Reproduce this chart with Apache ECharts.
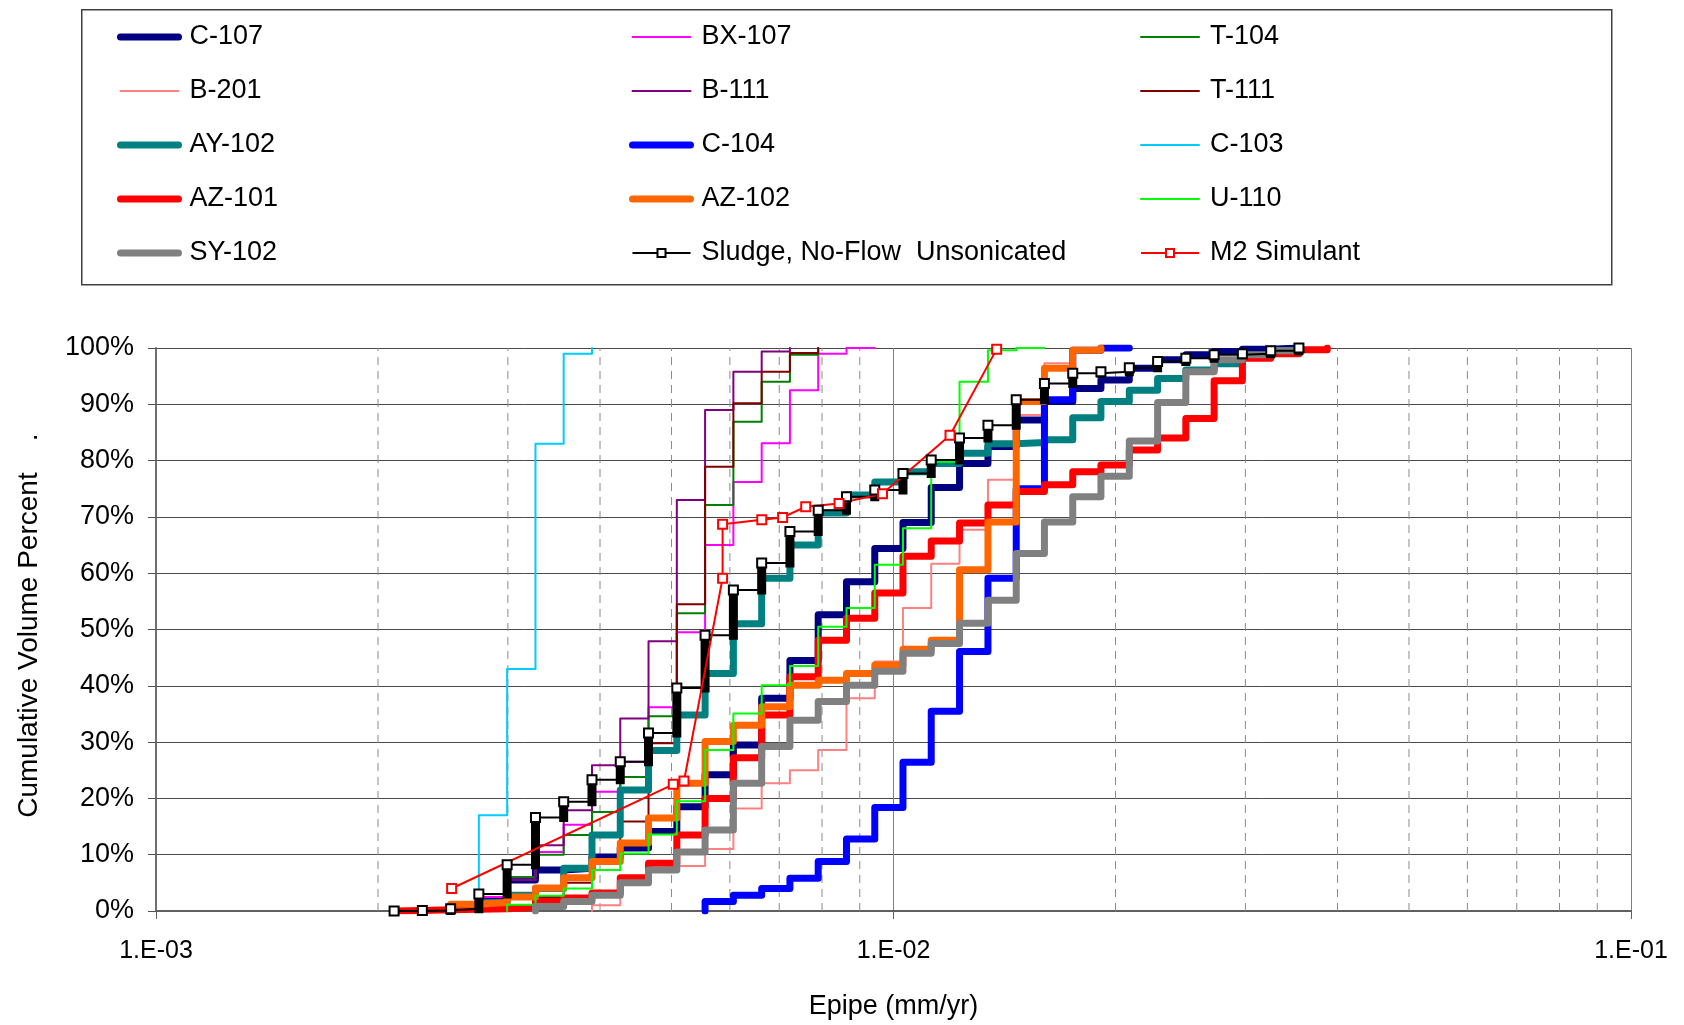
<!DOCTYPE html>
<html>
<head>
<meta charset="utf-8">
<script src="https://cdn.jsdelivr.net/npm/echarts@6/dist/echarts.min.js"></script>
<style>
  html, body { margin: 0; padding: 0; background: #ffffff; }
  #chart { width: 1684px; height: 1025px; }
</style>
</head>
<body>
<div id="chart"></div>
<script>
// Upper edges of the Epipe classes (mm/yr); every tank curve steps at these values
const binEdges = [0.002103, 0.002297, 0.002509, 0.002740, 0.002993, 0.003270, 0.003571,
  0.003901, 0.004261, 0.004654, 0.005084, 0.005553, 0.006066, 0.006626, 0.007237,
  0.007905, 0.008635, 0.009432, 0.01030, 0.01125, 0.01229, 0.01343, 0.01467, 0.01602,
  0.01750, 0.01911, 0.02088, 0.02281, 0.02491, 0.02721, 0.02972, 0.03247, 0.03546, 0.03874];

// Cumulative volume percent per class; "From" is the first class index of each curve
const c107From = 2;
const c107 = [0.5, 2.0, 5.5, 7.3, 7.6, 9.6, 11.2, 14.1, 18.5, 24.2, 29.5, 37.8, 44.5, 52.6, 58.5,
  64.4, 69.0, 75.2, 79.5, 82.5, 87.2, 90.5, 92.8, 94.3, 96.4, 97.9, 98.8, 99.4, 99.8, 100, 100];
const bx107From = 2;
const bx107 = [1.0, 2.5, 6.0, 10.5, 15.3, 21.2, 26.5, 36.2, 49.5, 65.0, 76.2, 83.1, 92.5, 99.0, 100, 100];
const t104From = 2;
const t104 = [1.0, 3.0, 6.0, 10.0, 13.5, 17.6, 23.8, 34.6, 52.9, 72.1, 86.9, 94.0, 98.8, 100];
const b201From = 7;
const b201 = [1.0, 4.6, 7.3, 8.0, 11.0, 18.2, 22.7, 25.0, 28.6, 37.8, 44.3, 53.8, 61.7, 67.7, 76.6, 88.1, 97.3, 100];
const b111From = 2;
const b111 = [0.8, 2.0, 5.5, 11.7, 17.9, 25.9, 34.2, 47.9, 73.0, 89.0, 95.8, 99.4, 100];
const t111From = 4;
const t111 = [1.0, 2.5, 5.0, 9.0, 15.9, 29.8, 54.5, 78.9, 90.2, 95.8, 99.1, 100];
const ay102From = 2;
const ay102 = [0.8, 1.5, 2.8, 4.0, 7.6, 13.5, 21.5, 28.5, 34.8, 42.2, 51.0, 59.1, 65.0, 70.7, 73.9,
  76.2, 78.0, 79.5, 81.3, 83.0, 83.2, 83.7, 87.6, 90.5, 92.5, 94.6, 96.1, 97.2, 98.5, 99.5, 100];
const c104From = 11;
const c104 = [1.7, 2.8, 4.0, 5.8, 8.8, 12.8, 18.4, 26.4, 35.5, 46.1, 59.1, 75.0, 90.8, 99.6, 100, 100];
const c103From = 3;
const c103 = [17, 43, 83, 99, 100];
const az101From = 0;
const az101 = [0.1, 0.2, 0.3, 0.4, 0.6, 1.7, 2.3, 3.2, 5.9, 8.5, 13.5, 20.0, 27.2, 34.8, 41.6, 48.1,
  52.0, 56.5, 63.0, 65.7, 68.9, 72.1, 74.5, 75.7, 78.0, 79.2, 81.9, 84.0, 87.5, 94.2, 98.2, 99.0, 99.7, 100];
const az102From = 2;
const az102 = [1.2, 1.5, 2.5, 4.1, 5.9, 8.8, 12.1, 16.5, 22.7, 30.1, 33.0, 36.3, 40.1, 41.0, 42.2,
  43.7, 46.5, 48.1, 60.6, 69.1, 90.5, 96.4, 99.6, 100];
const u110From = 4;
const u110 = [1.1, 2.7, 4.0, 7.3, 10.2, 13.6, 19.5, 28.6, 35.1, 40.1, 43.5, 50.5, 53.8, 61.5, 68.0,
  79.8, 94.0, 99.6, 100, 100];
const sy102From = 5;
const sy102 = [0.8, 1.7, 2.8, 5.0, 7.3, 10.5, 14.4, 22.7, 29.2, 33.9, 37.2, 40.1, 42.6, 45.8, 47.5,
  51.1, 55.2, 63.5, 69.1, 73.6, 77.2, 83.5, 90.3, 95.8, 97.9, 98.8, 99.5, 100];
const sludgeFrom = 0;
const sludge = [0, 0.1, 0.4, 3.0, 8.2, 16.6, 19.4, 23.3, 26.5, 31.6, 39.6, 49.0, 57.0, 61.8, 67.4,
  71.2, 73.6, 74.8, 77.7, 80.1, 84.0, 86.3, 90.8, 93.7, 95.5, 95.8, 96.5, 97.6, 98.2, 98.8, 99.0, 99.5, 100];

// M2 simulant measured points
const m2Epipe = [0.002517, 0.005028, 0.005199, 0.005865, 0.005865, 0.006628, 0.007074, 0.007603,
  0.008437, 0.009662, 0.01193, 0.01380];
const m2Pct = [4.0, 22.5, 23.1, 59.1, 68.7, 69.5, 69.9, 71.8, 72.4, 74.1, 84.5, 99.8];

// Axis decorations and legend layout (three columns)
const minorGrid = [0.002, 0.003, 0.004, 0.005, 0.006, 0.007, 0.008, 0.009,
  0.02, 0.03, 0.04, 0.05, 0.06, 0.07, 0.08, 0.09];
const legendCol1 = ['C-107', 'B-201', 'AY-102', 'AZ-101', 'SY-102'];
const legendCol2 = ['BX-107', 'B-111', 'C-104', 'AZ-102', 'Sludge, No-Flow  Unsonicated'];
const legendCol3 = ['T-104', 'T-111', 'C-103', 'U-110', 'M2 Simulant'];

const FONT = '"Liberation Sans", Arial, sans-serif';
const THICK = 7, THIN = 2;
const lineWidths = {};

// Staircase corners of a cumulative curve
function stairs(from, pcts) {
  const pts = [[binEdges[from], 0]];
  pcts.forEach((p, j) => {
    const x = binEdges[from + j];
    if (j > 0) pts.push([x, pcts[j - 1]]);
    pts.push([x, p]);
  });
  return pts;
}
// Same staircase, with a marker only on the top of each riser
function stairsMarked(from, pcts) {
  const pts = [];
  pcts.forEach((p, j) => {
    const x = binEdges[from + j];
    pts.push({ value: [x, j > 0 ? pcts[j - 1] : 0], symbol: 'none' });
    pts.push({ value: [x, p] });
  });
  return pts;
}
// Risers only (the vertical parts), broken apart
function risers(from, pcts) {
  const pts = [];
  pcts.forEach((p, j) => {
    const x = binEdges[from + j];
    const prev = j > 0 ? pcts[j - 1] : 0;
    pts.push([x, prev], [x, p], ['-', '-']);
  });
  return pts;
}
// Full-height dashed verticals for the minor decades
function minorLines(values) {
  const pts = [];
  values.forEach(v => pts.push([v, 0], [v, 100], ['-', '-']));
  return pts;
}

function stepSeries(name, color, width, from, pcts) {
  lineWidths[name] = width;
  return {
    name: name, type: 'line', data: stairs(from, pcts),
    showSymbol: false, symbol: 'none', silent: true,
    lineStyle: { color: color, width: width, join: 'round', cap: 'round' },
    itemStyle: { color: color },
    emphasis: { disabled: true }
  };
}

const series = [
  {
    name: 'minor-grid', type: 'line', data: minorLines(minorGrid), silent: true,
    showSymbol: false, symbol: 'none', connectNulls: false, z: 1,
    lineStyle: { color: '#8a8a8a', width: 1, type: [8, 6] },
    emphasis: { disabled: true }
  },
  stepSeries('C-107', '#000080', THICK, c107From, c107),
  stepSeries('BX-107', '#FF00FF', THIN, bx107From, bx107),
  stepSeries('T-104', '#008000', THIN, t104From, t104),
  stepSeries('B-201', '#FF8080', THIN, b201From, b201),
  stepSeries('B-111', '#800080', THIN, b111From, b111),
  stepSeries('T-111', '#800000', THIN, t111From, t111),
  stepSeries('AY-102', '#008080', THICK, ay102From, ay102),
  stepSeries('C-104', '#0000FF', THICK, c104From, c104),
  stepSeries('C-103', '#00CCFF', THIN, c103From, c103),
  stepSeries('AZ-101', '#FF0000', THICK, az101From, az101),
  stepSeries('AZ-102', '#FF6600', THICK, az102From, az102),
  stepSeries('U-110', '#00FF00', THIN, u110From, u110),
  stepSeries('SY-102', '#808080', THICK, sy102From, sy102),
  {
    name: 'sludge-risers', type: 'line', data: risers(sludgeFrom, sludge),
    showSymbol: false, symbol: 'none', silent: true, connectNulls: false,
    lineStyle: { color: '#000000', width: 9, cap: 'square' },
    emphasis: { disabled: true }
  },
  {
    name: 'Sludge, No-Flow  Unsonicated', type: 'line', data: stairsMarked(sludgeFrom, sludge),
    symbol: 'rect', symbolSize: 9, showSymbol: true, silent: true,
    lineStyle: { color: '#000000', width: 2 },
    itemStyle: { color: '#ffffff', borderColor: '#000000', borderWidth: 2 },
    emphasis: { disabled: true }
  },
  {
    name: 'M2 Simulant', type: 'line',
    data: m2Epipe.map((x, i) => [x, m2Pct[i]]),
    symbol: 'rect', symbolSize: 9, showSymbol: true, silent: true,
    lineStyle: { color: '#FF0000', width: 2 },
    itemStyle: { color: '#ffffff', borderColor: '#FF0000', borderWidth: 2 },
    emphasis: { disabled: true }
  }
];

// Legend entries: plain lines at the series' own width, markers only where the series has them
function legendItem(name) {
  if (lineWidths[name] === undefined) {
    return { name: name, lineStyle: { width: 2 } };
  }
  return {
    name: name,
    lineStyle: { width: lineWidths[name], cap: 'round' },
    itemStyle: { opacity: 0, color: 'rgba(0,0,0,0)', borderColor: 'rgba(0,0,0,0)', borderWidth: 0 }
  };
}
function legendAt(left, names) {
  return {
    orient: 'vertical', left: left, top: 18,
    itemWidth: 58, itemHeight: 10, itemGap: 26,
    selectedMode: false,
    textStyle: { fontFamily: FONT, fontSize: 27, color: '#000', lineHeight: 28, padding: [0, 0, 0, 6] },
    data: names.map(legendItem)
  };
}

const chart = echarts.init(document.getElementById('chart'), null, { renderer: 'canvas' });
chart.setOption({
  animation: false,
  backgroundColor: '#ffffff',
  graphic: [{
    type: 'rect', left: 81, top: 9, z: -1,
    shape: { width: 1530, height: 275 },
    style: { fill: '#ffffff', stroke: '#404040', lineWidth: 1.5 }
  }],
  legend: [legendAt(112, legendCol1), legendAt(624, legendCol2), legendAt(1135, legendCol3)],
  grid: { left: 156, right: 53, top: 348, bottom: 114, containLabel: false },
  xAxis: {
    type: 'log', logBase: 10, min: 0.001, max: 0.1,
    name: 'Epipe (mm/yr)', nameLocation: 'middle', nameGap: 82,
    nameTextStyle: { fontFamily: FONT, fontSize: 27, color: '#000' },
    axisLine: { show: true, onZero: false, lineStyle: { color: '#606060', width: 2 } },
    axisTick: { show: true, length: 8, lineStyle: { color: '#606060' } },
    axisLabel: {
      fontFamily: FONT, fontSize: 25, color: '#000', margin: 28,
      formatter: function (v) {
        const e = Math.round(Math.log10(v));
        return '1.E' + (e < 0 ? '-' : '+') + String(Math.abs(e)).padStart(2, '0');
      }
    },
    splitLine: { show: true, lineStyle: { color: '#808080', width: 1 } }
  },
  yAxis: {
    type: 'value', min: 0, max: 100, interval: 10,
    name: ' Cumulative Volume Percent    .', nameLocation: 'middle', nameGap: 113,
    nameTextStyle: { fontFamily: FONT, fontSize: 28, color: '#000' },
    axisLine: { show: true, lineStyle: { color: '#707070', width: 2 } },
    axisTick: { show: true, length: 8, lineStyle: { color: '#505050' } },
    axisLabel: { fontFamily: FONT, fontSize: 27, color: '#000', margin: 22, formatter: '{value}%' },
    splitLine: { show: true, lineStyle: { color: '#4a4a4a', width: 1 } }
  },
  series: series
});
</script>
</body>
</html>
